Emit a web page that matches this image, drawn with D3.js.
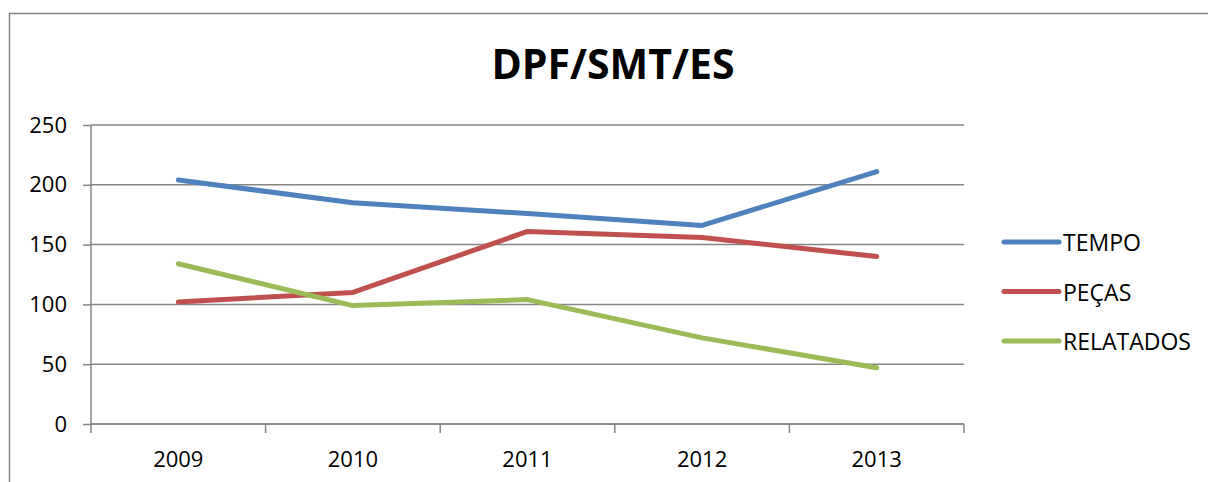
<!DOCTYPE html>
<html>
<head>
<meta charset="utf-8">
<script src="https://cdn.jsdelivr.net/npm/d3@7"></script>
<style>
  body { margin: 0; background: #fff; }
  text { font-family: "Open Sans", "Liberation Sans", sans-serif; fill: #000; }
  .chart-title { font-weight: bold; }
</style>
</head>
<body>
<div id="chart"></div>
<script>
(function () {

  // data
  const years = ["2009", "2010", "2011", "2012", "2013"];
  const seriesNames = ["TEMPO", "PEÇAS", "RELATADOS"];
  const tempo = [204, 185, 176, 166, 211];
  const pecas = [102, 110, 161, 156, 140];
  const relatados = [134, 99, 104, 72, 47];
  const yTicks = [0, 50, 100, 150, 200, 250];
  const colors = ["#4F81BD", "#C0504D", "#9BBB59"];

  const series = [tempo, pecas, relatados].map((vals, i) => ({
    name: seriesNames[i],
    color: colors[i],
    values: vals.map((v, j) => ({ year: years[j], value: v }))
  }));

  // chart settings
  const svg_width = 1208;
  const svg_height = 482;
  const margin = { top: 125, left: 91 },
    width = 873,
    height = 299;

  const svg = d3.select("#chart").append("svg")
    .attr("width", svg_width)
    .attr("height", svg_height);

  // outer frame
  svg.append("rect")
    .attr("x", 9.5).attr("y", 13.5)
    .attr("width", 1230).attr("height", 500)
    .attr("fill", "none")
    .attr("stroke", "#868686")
    .attr("stroke-width", 1.5);

  svg.append("text")
    .attr("class", "chart-title")
    .attr("x", 613).attr("y", 79)
    .attr("text-anchor", "middle")
    .style("font-size", "41px")
    .text("DPF/SMT/ES");

  const g = svg.append("g")
    .attr("transform", "translate(" + margin.left + "," + margin.top + ")");

  const x = d3.scaleBand().domain(years).range([0, width]);
  const y = d3.scaleLinear().domain([0, 250]).range([height, 0]);

  // gridlines
  g.selectAll(".grid")
    .data(yTicks)
    .enter().append("line")
    .attr("class", "grid")
    .attr("x1", 0).attr("x2", width)
    .attr("y1", d => y(d)).attr("y2", d => y(d))
    .attr("stroke", "#868686")
    .attr("stroke-width", 1.5);

  // y axis
  const yAxis = g.append("g")
    .call(d3.axisLeft(y).tickValues(yTicks).tickSize(8).tickPadding(16));
  yAxis.selectAll("line, path").attr("stroke", "#868686").attr("stroke-width", 1.5);
  yAxis.select(".domain").attr("d", "M0," + height + "V0");
  yAxis.selectAll("text").style("font-size", "22px").attr("fill", "#000");

  // x axis with ticks at band edges
  const xAxis = g.append("g")
    .attr("transform", "translate(0," + height + ")");
  xAxis.append("line")
    .attr("x1", 0).attr("x2", width)
    .attr("stroke", "#868686").attr("stroke-width", 1.5);
  const edges = years.map(d => x(d)).concat([width]);
  xAxis.selectAll(".xtick")
    .data(edges)
    .enter().append("line")
    .attr("x1", d => d).attr("x2", d => d)
    .attr("y1", 0).attr("y2", 9)
    .attr("stroke", "#868686").attr("stroke-width", 1.5);
  xAxis.selectAll(".xlabel")
    .data(years)
    .enter().append("text")
    .attr("x", d => x(d) + x.bandwidth() / 2)
    .attr("y", 43)
    .attr("text-anchor", "middle")
    .style("font-size", "22px")
    .text(d => d);

  // lines
  const line = d3.line()
    .x(d => x(d.year) + x.bandwidth() / 2)
    .y(d => y(d.value));

  g.selectAll(".series")
    .data(series)
    .enter().append("path")
    .attr("class", "series")
    .attr("d", d => line(d.values))
    .attr("fill", "none")
    .attr("stroke", d => d.color)
    .attr("stroke-width", 5)
    .attr("stroke-linejoin", "round")
    .attr("stroke-linecap", "round");

  // legend
  const legend = svg.selectAll(".legend")
    .data(series)
    .enter().append("g")
    .attr("class", "legend")
    .attr("transform", (d, i) => "translate(1004," + (242 + i * 49.5) + ")");
  legend.append("line")
    .attr("x1", 0).attr("x2", 55)
    .attr("stroke", d => d.color)
    .attr("stroke-width", 5)
    .attr("stroke-linecap", "round");
  legend.append("text")
    .attr("x", 59).attr("y", 9)
    .style("font-size", "23px")
    .text(d => d.name);

})();
</script>
</body>
</html>
